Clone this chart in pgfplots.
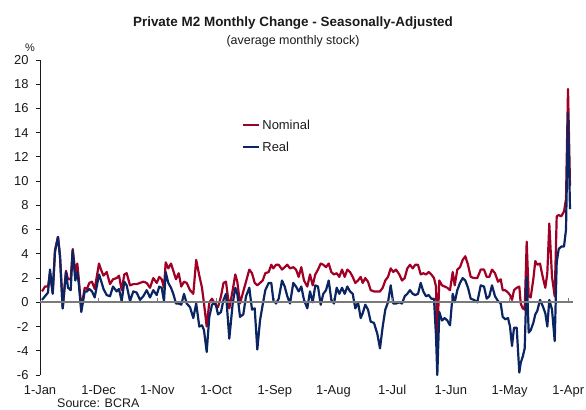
\documentclass[border=0pt]{standalone}
\usepackage{pgfplots}
\pgfplotsset{compat=1.18}
\usepackage{pgfplotstable}
\usepackage{fontspec}
\setmainfont{Liberation Sans}
\definecolor{nomred}{HTML}{A00025}
\definecolor{realblue}{HTML}{0A2562}
\definecolor{zgray}{HTML}{7A7A7A}
\definecolor{txt}{HTML}{1A1A1A}

\pgfplotstableread{
x nom real
42 0.9 0.2
45 1.3 0.5
48 1.3 0.8
50 2.4 2.7
52.7 0.8 0.7
55 4.3 4.2
58 5.4 5.4
60 3.8 3.8
62.7 -0.5 -0.5
66 2.6 2.5
68 1.9 1.2
70.7 1.9 1.0
72.7 4.4 4.3
75.3 2.5 1.8
77.3 3.2 2.5
78.7 2.0 1.6
81.3 -0.5 -0.8
84.7 1.2 0.9
87 1.1 0.9
89.3 1.6 1.1
92 1.7 0.9
94.7 1.1 0.4
99 3.2 2.3
101 2.7 1.8
103.5 2.2 1.1
106.7 2.5 0.6
110 1.5 0.5
113 1.9 1.3
116.7 2.0 0.9
119 2.2 1.1
121.7 1.0 0.1
124.3 2.3 1.7
126.7 2.4 1.4
130 1.4 0.1
133.3 1.5 0.9
136.7 1.5 0.8
140 1.6 0.2
143.3 1.7 0.5
146.7 1.6 1.0
150 1.2 0.4
153.3 2.0 1.0
156.7 1.6 0.6
159.3 2.1 1.3
161.7 1.9 1.2
164 1.2 0.1
165.7 3.3 2.5
168.3 2.8 1.6
171 3.2 1.2
173.3 2.6 0.7
176 1.9 -0.1
178.7 2.4 -0.1
181.3 1.3 -0.2
184 1.7 0.7
186.7 1.6 -0.1
190 1.0 -0.4
193.3 0.7 -1.3
196.2 3.5 -0.1
199.3 2.2 -2.0
202 1.2 -1.9
204 -0.1 -2.3
206.7 -2.0 -4.1
209.3 0.0 -1.2
212 0.3 -0.2
215.3 -0.2 0.0
218 -0.4 -1.0
221 0.5 -0.8
223.5 1.6 0.2
226 1.7 0.7
229.3 -0.5 -3.0
232.7 1.0 -0.1
235.3 2.3 1.2
237.3 1.7 0.7
240 -0.1 -1.2
243.3 0.9 -1.0
246 1.7 0.5
249.3 2.7 1.2
252 2.4 -0.6
254.7 1.6 -0.5
257.3 1.4 -3.9
260 1.6 -1.5
262.7 1.8 -0.2
265.3 2.4 1.0
268.7 2.5 1.6
271.3 3.1 1.6
273.3 2.8 0.2
276 3.1 -0.1
278.7 3.1 0.3
282 2.7 1.8
284.7 2.9 1.3
287.3 3.1 0.5
290 2.8 -0.1
293.3 2.9 1.6
296 2.7 1.3
298.7 2.1 0.9
301.3 2.9 1.3
304 1.8 0.2
307.3 1.3 -0.5
310 2.3 0.9
312.7 1.4 0.0
315.3 2.3 1.4
318 2.7 1.3
320.7 3.2 -0.2
323.3 3.1 0.7
326 2.9 1.0
328.7 3.2 1.8
331.3 2.5 0.2
334 2.3 -0.1
336.7 2.4 1.2
339.3 2.1 0.7
342 2.7 1.2
344.7 2.1 0.7
347.3 2.7 1.3
350 2.5 0.9
352.7 2.1 0.7
355.3 1.6 -0.5
358 1.8 0.0
360.7 2.1 -1.3
362.7 1.6 -0.9
365.3 2.0 -0.2
368 1.7 -0.6
370.7 1.0 -1.6
374 0.9 -1.7
377.3 0.9 -2.6
380 0.9 -3.8
382.7 1.2 -2.0
385.3 1.8 -0.6
388 2.1 0.0
390.7 2.8 1.4
393.3 2.5 -0.1
396 2.7 -0.1
399.3 2.3 0.0
402 1.8 -0.1
404.7 2.0 0.5
407.3 2.8 0.7
410 3.1 1.0
412.7 2.8 0.7
415.3 3.1 0.6
418 3.1 0.7
420.7 2.3 1.6
423.3 2.4 0.9
426 2.3 0.5
428.7 2.5 0.6
431.3 2.3 0.3
434 2.0 0.3
436 1.3 -2.8
437.3 -2.9 -6.0
439.3 1.8 -0.8
442 1.4 -1.5
444.7 1.3 -1.3
447.3 1.2 -1.5
450 1.0 -1.9
452.7 2.5 0.7
454.7 1.4 0.0
457.3 2.7 1.0
460 2.9 1.6
462.7 3.5 2.0
465.3 3.8 1.8
468 3.1 1.2
470.7 2.1 0.3
474 2.0 0.2
477.3 2.0 0.0
480.7 2.7 1.4
484 2.7 1.3
486.7 2.1 0.3
489.3 2.1 0.5
492 2.7 1.4
495 2.4 0.5
498 1.7 0.1
500.7 1.9 -0.1
502.7 1.0 -1.2
505.3 1.0 -1.4
508 0.8 -1.3
510 0.6 -2.0
512 0.2 -3.6
514 1.0 -2.1
516.7 1.2 -2.1
519.3 1.3 -5.8
520.7 -0.1 -5.0
522.7 -0.5 -4.5
524.7 -0.6 -3.8
526.7 5.0 2.1
528.7 0.5 -2.5
530.7 0.4 -2.3
533.3 1.9 -1.7
535.3 3.4 -1.0
537.3 3.1 -0.7
540 3.2 0.2
542.7 2.1 -0.3
545.3 1.2 -0.9
547.3 2.4 -2.0
549.3 6.5 0.2
552 2.1 -0.6
554.7 0.5 -3.2
556.7 7.1 3.3
558.7 7.2 4.4
561.3 7.1 4.6
564 7.5 4.6
566 8.5 6.0
568 17.6 15.6
570 9.6 7.7
}\mtwo

\begin{document}
\begin{tikzpicture}
\useasboundingbox (0bp,0bp) rectangle (586bp,410bp);
\begin{axis}[
  at={(40bp,35bp)}, anchor=south west,
  scale only axis, width=533bp, height=315bp,
  xmin=40, xmax=573, ymin=-6, ymax=20,
  axis x line=bottom, axis y line=left,
  axis line style={-},
  x axis line style={draw=none},
  y axis line style={draw=txt, line width=0.9bp},
  xtick={40,98.7,157.4,216.1,274.8,333.5,392.2,450.9,509.6,568.3},
  xticklabels={1-Jan,1-Dec,1-Nov,1-Oct,1-Sep,1-Aug,1-Jul,1-Jun,1-May,1-Apr},
  xtick style={draw=none},
  ytick={-6,-4,...,20},
  ytick style={draw=txt, line width=0.9bp},
  tick align=outside, major tick length=4bp,
  tick label style={font=\fontsize{13}{15}\selectfont, text=txt},
  xticklabel style={yshift=-3bp},
  yticklabel style={xshift=-4bp},
  /pgf/number format/assume math mode=true,
  legend style={at={(rel axis cs:0.379,0.817)}, anchor=north west, draw=none, fill=none,
    font=\fontsize{13}{15}\selectfont, text=txt, row sep=7bp, inner sep=0pt},
  legend cell align=left,
  legend image code/.code={\draw[#1] (0bp,0bp) -- (16bp,0bp);},
  clip=false,
]
\addplot[nomred, line width=2.2bp, line join=round] table[x=x, y=nom] {\mtwo};
\addlegendentry{Nominal}
\addplot[realblue, line width=2.2bp, line join=round] table[x=x, y=real] {\mtwo};
\addlegendentry{Real}
\draw[zgray, line width=1.8bp] (axis cs:40,0) -- (axis cs:573,0);
\pgfplotsinvokeforeach{98.7,157.4,216.1,274.8,333.5,392.2,450.9,509.6,568.3}{
  \draw[zgray, line width=0.8bp] (axis cs:#1,0) -- (axis cs:#1,0.35);
}
\end{axis}
\node[font=\bfseries\fontsize{13.5}{15}\selectfont, text=txt] at (293bp,387bp) {Private M2 Monthly Change - Seasonally-Adjusted};
\node[font=\fontsize{12.5}{14}\selectfont, text=txt] at (293bp,369bp) {(average monthly stock)};
\node[font=\fontsize{11}{13}\selectfont, text=txt] at (30bp,362bp) {\%};
\node[font=\fontsize{12.5}{14}\selectfont, text=txt, anchor=west, inner sep=0pt] at (57bp,7bp) {Source: BCRA};
\end{tikzpicture}
\end{document}
